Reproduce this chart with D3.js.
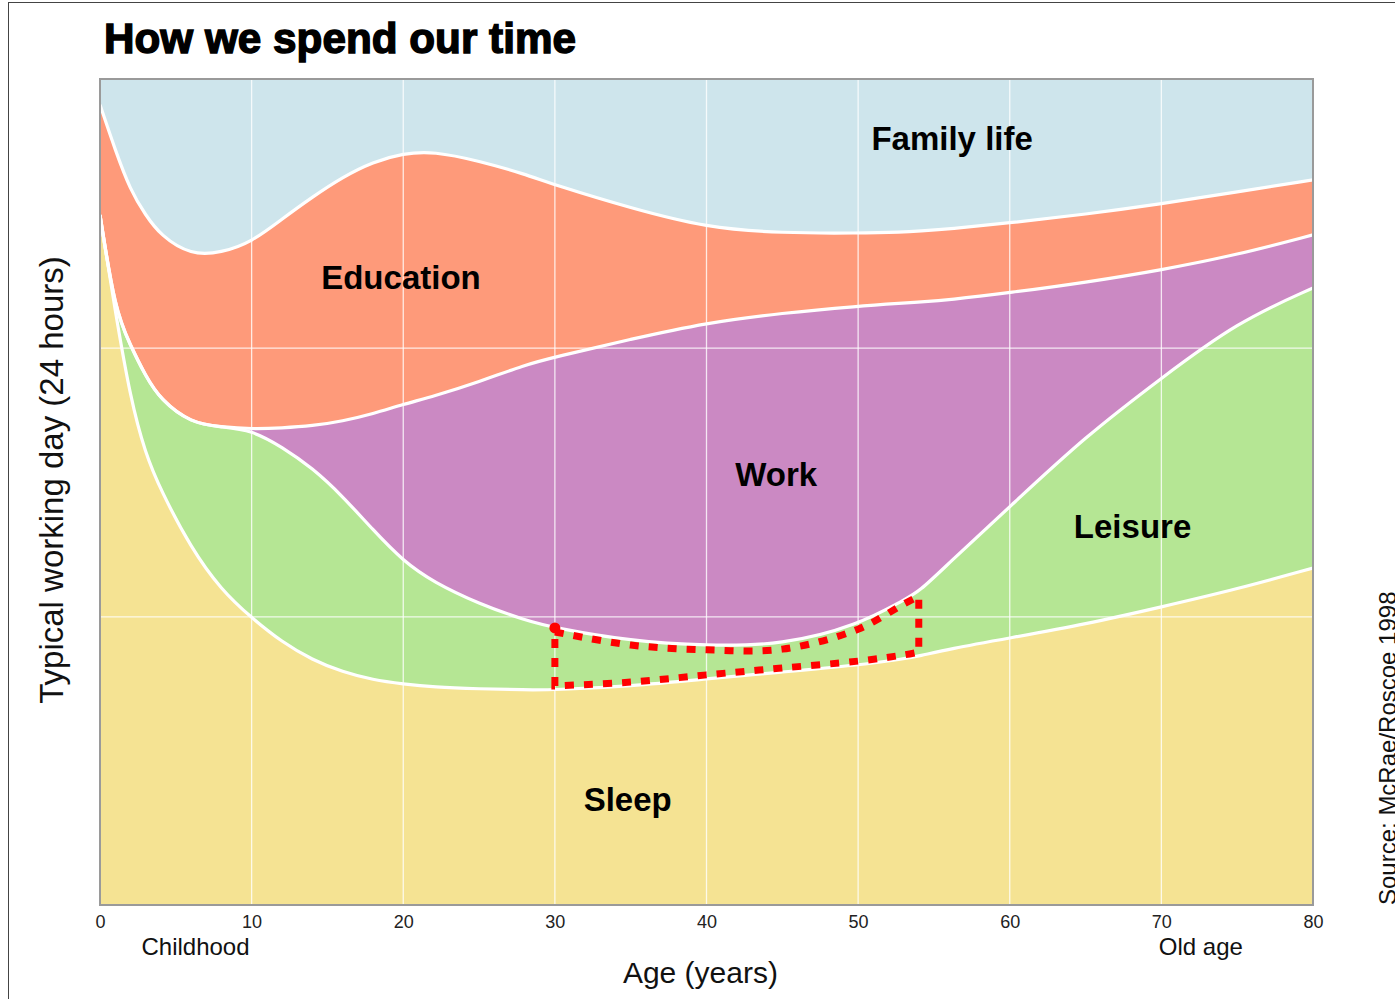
<!DOCTYPE html>
<html><head><meta charset="utf-8">
<script src="https://cdn.jsdelivr.net/npm/d3@7"></script>
<style>html,body{margin:0;padding:0;background:#fff;overflow:hidden}svg{display:block}</style>
</head><body>
<svg id="chart" width="1395" height="999"></svg>
<script>
// ---- data (hours per activity on a typical 24h day, by age) ----
const ages      = [0,1,2,3,4,6,8,10,12,14,16,18,20,22,25,28,30,35,40,45,50,53,54,56,60,65,70,75,80];
const sleep     = [20.05,17.26,14.73,13.10,12.06,10.37,9.15,8.34,7.64,7.12,6.77,6.54,6.42,6.33,6.28,6.25,6.25,6.36,6.57,6.77,6.97,7.15,7.23,7.44,7.76,8.16,8.66,9.18,9.79];
const leisure   = [0,0,1.54,2.27,2.62,3.63,4.74,5.46,5.67,5.58,5.11,4.36,3.57,3.05,2.47,2.03,1.80,1.31,0.96,0.78,1.16,1.71,1.86,2.50,3.81,5.46,6.65,7.76,8.14];
const work      = [0,0,0,0,0,0,0,0.03,0.55,1.22,2.18,3.37,4.56,5.40,6.45,7.41,7.87,8.77,9.39,9.65,9.27,8.63,8.43,7.64,6.22,4.47,3.14,1.95,1.54];
const education = [3.20,4.68,4.50,4.68,4.77,4.88,5.06,5.43,6.07,6.65,7.09,7.32,7.29,7.12,6.42,5.55,5.00,3.81,2.76,2.32,2.12,2.06,2.06,2.06,2.03,1.98,1.92,1.83,1.60];
const family    = [0.76,2.06,3.23,3.95,4.56,5.11,5.06,4.74,4.07,3.43,2.85,2.41,2.15,2.09,2.38,2.76,3.08,3.75,4.33,4.47,4.47,4.45,4.42,4.36,4.18,3.92,3.63,3.28,2.93];
const layerNames = ["Sleep","Leisure","Work","Education","Family life"];
const xTicks = [0,10,20,30,40,50,60,70,80];
const yGrid = [8.37,16.18];
// label anchors
const labelTexts = ["Family life","Education","Work","Leisure","Sleep"];
const labelAges  = [56.2, 19.85, 44.6, 68.1, 34.8];
const labelHours = [21.94, 17.9, 12.17, 10.66, 2.73];
const highlightRange = [30, 54]; // ages of the highlighted leisure band

const svg = d3.select("#chart");
const x = d3.scaleLinear().domain([0,80]).range([100,1313]);
const y = d3.scaleLinear().domain([0,24]).range([905,79]);
const color = d3.scaleOrdinal().domain(layerNames)
  .range(["#f5e393","#b5e694","#cb89c3","#fe9a7a","#cee5ec"]);
const curve = d3.curveBasis;
const FONT = "Liberation Sans, Arial, sans-serif";

// outer frame
svg.append("rect").attr("x",8.5).attr("y",2.5).attr("width",1600).attr("height",1200)
  .attr("fill","#fff").attr("stroke","#444").attr("stroke-width",1);

const rows = ages.map((a,i)=>({age:a,"Sleep":sleep[i],"Leisure":leisure[i],"Work":work[i],"Education":education[i],"Family life":family[i]}));
const series = d3.stack().keys(layerNames)(rows);

svg.append("defs").append("clipPath").attr("id","clip").append("rect")
  .attr("x",x(0)).attr("y",y(24)).attr("width",x(80)-x(0)).attr("height",y(0)-y(24));

const g = svg.append("g").attr("clip-path","url(#clip)");
g.append("rect").attr("x",x(0)).attr("y",y(24)).attr("width",x(80)-x(0)).attr("height",y(0)-y(24))
  .attr("fill",color("Family life"));

const area = d3.area().x(d=>x(d.data.age)).y0(d=>y(d[0])).y1(d=>y(d[1])).curve(curve);
g.selectAll("path.layer").data(series).join("path").attr("class","layer")
  .attr("d",area).attr("fill",d=>color(d.key));

// grid
g.selectAll("line.vg").data(xTicks.slice(1,-1)).join("line").attr("class","vg")
  .attr("x1",d=>x(d)).attr("x2",d=>x(d)).attr("y1",y(0)).attr("y2",y(24))
  .attr("stroke","#fff").attr("stroke-opacity",0.8).attr("stroke-width",1.3);
g.selectAll("line.hg").data(yGrid).join("line").attr("class","hg")
  .attr("x1",x(0)).attr("x2",x(80)).attr("y1",d=>y(d)).attr("y2",d=>y(d))
  .attr("stroke","#fff").attr("stroke-opacity",0.8).attr("stroke-width",1.3);

// white boundaries
const line = d3.line().x(d=>x(d.data.age)).y(d=>y(d[1])).curve(curve);
g.selectAll("path.edge").data(series.slice(0,4)).join("path").attr("class","edge")
  .attr("d",line).attr("fill","none").attr("stroke","#fff").attr("stroke-width",3.2);

// plot frame
svg.append("rect").attr("x",x(0)).attr("y",y(24)).attr("width",x(80)-x(0)).attr("height",y(0)-y(24))
  .attr("fill","none").attr("stroke","#9a9a9a").attr("stroke-width",2);

// highlight annotation around leisure band
const leisureSeries = series[1].filter(d=>d.data.age>=highlightRange[0] && d.data.age<=highlightRange[1]);
const hiArea = d3.area().x(d=>x(d.data.age)).y0(d=>y(d[0])-4).y1(d=>y(d[1])+4).curve(d3.curveCatmullRom.alpha(0.5));
svg.append("path").attr("d",hiArea(leisureSeries)).attr("fill","none")
  .attr("stroke","#f00").attr("stroke-width",7).attr("stroke-dasharray","9,10");
svg.append("circle").attr("cx",x(leisureSeries[0].data.age)).attr("cy",y(leisureSeries[0][1]))
  .attr("r",5.5).attr("fill","#f00");

// labels
svg.selectAll("text.lab").data(labelTexts).join("text").attr("class","lab")
  .attr("x",(d,i)=>x(labelAges[i])).attr("y",(d,i)=>y(labelHours[i]))
  .attr("text-anchor","middle").attr("font-family",FONT)
  .attr("font-weight","bold").attr("font-size",33).attr("fill","#000").text(d=>d);

// x axis
const ax = svg.append("g").attr("transform",`translate(0,${y(0)})`)
  .call(d3.axisBottom(x).tickValues(xTicks).tickSize(0).tickPadding(10).tickFormat(d3.format("d")));
ax.select(".domain").remove();
ax.selectAll("text").attr("font-family",FONT).attr("font-size",18).attr("fill","#222");

svg.append("text").attr("x",x(6.3)).attr("y",955).attr("text-anchor","middle")
  .attr("font-family",FONT).attr("font-size",24).attr("fill","#111").text("Childhood");
svg.append("text").attr("x",x(72.6)).attr("y",955).attr("text-anchor","middle")
  .attr("font-family",FONT).attr("font-size",24).attr("fill","#111").text("Old age");
svg.append("text").attr("x",x(39.6)).attr("y",983).attr("text-anchor","middle")
  .attr("font-family",FONT).attr("font-size",30).attr("fill","#111").text("Age (years)");

// y title
svg.append("text").attr("transform",`translate(63,${(y(0)+y(24))/2 - 12}) rotate(-90)`).attr("text-anchor","middle")
  .attr("font-family",FONT).attr("font-size",33).attr("fill","#111")
  .text("Typical working day (24 hours)");

// source (partly cut at the right edge, as in the original)
svg.append("text").attr("transform",`translate(1396,905) rotate(-90)`).attr("text-anchor","start")
  .attr("font-family",FONT).attr("font-size",24).attr("fill","#111")
  .text("Source: McRae/Roscoe 1998");

// title
svg.append("text").attr("x",104).attr("y",53)
  .attr("font-family",FONT).attr("font-weight","bold").attr("font-size",42)
  .attr("stroke","#000").attr("stroke-width",1.4).attr("fill","#000")
  .attr("textLength",472).attr("lengthAdjust","spacingAndGlyphs")
  .text("How we spend our time");
</script>
</body></html>
